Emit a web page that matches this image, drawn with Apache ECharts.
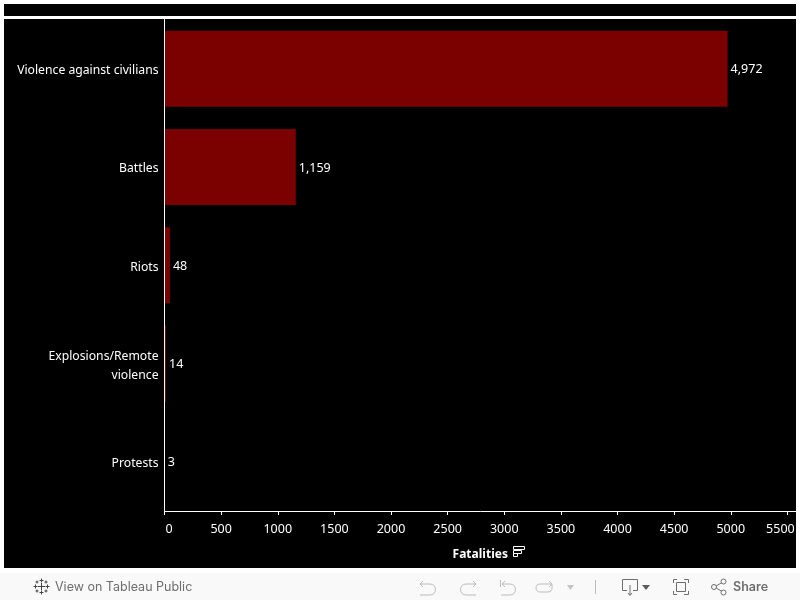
<!DOCTYPE html>
<html><head><meta charset="utf-8">
<style>html,body{margin:0;padding:0;background:#fff}#c{width:800px;height:600px}</style>
<script src="https://cdn.jsdelivr.net/npm/echarts@6/dist/echarts.min.js"></script>
</head><body><div id="c"></div>
<script>
const categories = ['Violence against civilians','Battles','Riots','Explosions/Remote\nviolence','Protests'];
const fatalities = [4972,1159,48,14,3];
const axisTitle = 'Fatalities';
const footerLeft = 'View on Tableau Public';
const footerRight = 'Share';
const font = '"Noto Sans"';
const uiFont = 'Inter';
const ic = {stroke:'#bcbcbc',lineWidth:1,fill:null};
const dk = {stroke:'#6e6e6e',lineWidth:1,fill:null};
let shapeCount = 0;
function path(d,style,z){
  const name = 'iconShape'+(shapeCount++);
  echarts.graphic.registerShape(name, echarts.graphic.extendPath(d));
  return {type:name,style:style,z:z||5,silent:true};
}
function plus(cx,cy,a){return `M${cx} ${cy-a}V${cy+a}M${cx-a} ${cy}H${cx+a}`;}
const logo = plus(41.5,586.5,3.5)+plus(41.5,580.5,2)+plus(41.5,592.5,2)+plus(35.5,586.5,2)+plus(47.5,586.5,2)+plus(37,582,1.5)+plus(46,582,1.5)+plus(37,591,1.5)+plus(46,591,1.5);
const numSize = 12.5;
const catText = {color:'#fff',fontSize:12.2,fontFamily:font,align:'right'};
const chart = echarts.init(document.getElementById('c'),null,{renderer:'canvas'});
chart.setOption({
  animation:false,
  backgroundColor:'#fff',
  textStyle:{fontFamily:font},
  grid:{left:164.5,right:4,top:19.5,bottom:89,containLabel:false},
  xAxis:{type:'value',min:0,max:5576,interval:500,z:3,
    name:axisTitle,nameLocation:'middle',nameGap:38,
    nameTextStyle:{color:'#fff',fontSize:12,fontWeight:'bold',fontFamily:font},
    splitLine:{show:false},
    axisLine:{show:true,lineStyle:{color:'#fff',width:1}},
    axisTick:{show:true,length:4,lineStyle:{color:'#fff',width:1},alignWithLabel:true},
    showMaxLabel:false,
    axisLabel:{color:'#fff',fontSize:numSize,margin:12,fontFamily:font,
      formatter:function(v){return v===0?'{a|0}':v===5500?'{b|5500}':String(v);},
      rich:{a:{color:'#fff',fontSize:numSize,fontFamily:font,padding:[0,0,0,9]},
            b:{color:'#fff',fontSize:numSize,fontFamily:font,padding:[0,14,0,0]}}}},
  yAxis:{type:'category',inverse:true,data:categories,z:3,
    axisLine:{show:true,lineStyle:{color:'#fff',width:1}},
    axisTick:{show:false},splitLine:{show:false},
    axisLabel:{color:'#fff',fontSize:12.2,margin:6,align:'right',fontFamily:font,
      formatter:function(v){
        const lines=v.split('\n');
        return lines.map(function(s,i){return '{'+(lines.length===1?'p':i===0?'m':'n')+'|'+s+'}';}).join('\n');
      },
      rich:{p:Object.assign({padding:[4,0,0,0]},catText),
            m:Object.assign({padding:[4,0,0,0],height:15},catText),
            n:Object.assign({padding:[4,0,0,0],height:15},catText)}}},
  series:[{type:'bar',data:fatalities,barWidth:76,itemStyle:{color:'#7b0000'},
    label:{show:true,position:'right',distance:3,offset:[0,1],color:'#fff',fontSize:numSize,fontFamily:font,
      formatter:function(p){return p.value.toLocaleString('en-US');}}}],
  graphic:{elements:[
    {type:'rect',shape:{x:4,y:4,width:792,height:12},style:{fill:'#000'},z:-10,silent:true},
    {type:'rect',shape:{x:4,y:19,width:792,height:549},style:{fill:'#000'},z:-10,silent:true},
    {type:'rect',shape:{x:0,y:573,width:800,height:27},style:{fill:'#f9f9f9'},z:-10,silent:true},
    path('M513.5 546.5H524.5V549.5H513.5ZM513.5 550.5H521.5V553.5H513.5ZM513.5 553.5H517.5V556.5H513.5Z',{stroke:'#fff',lineWidth:1,fill:null}),
    path(logo,{stroke:'#444',lineWidth:1,fill:null}),
    {type:'text',x:55,y:587,style:{text:footerLeft,fill:'#6e6e6e',font:'12.5px '+uiFont,verticalAlign:'middle'},z:5,silent:true},
    path('M423 581L420 584L423 587M420 584H430C433.5 584 435.5 586.5 435.5 589.5C435.5 592.5 433.5 595 430 595H420',ic),
    path('M473 581L476 584L473 587M476 584H466C462.5 584 460.5 586.5 460.5 589.5C460.5 592.5 462.5 595 466 595H476',ic),
    path('M500.5 580V587M505 581L502 584L505 587M502 584H510C513.5 584 515.5 586.5 515.5 589.5C515.5 592.5 513.5 595 510 595H501',ic),
    path('M549 581L552 584L549 587M552 584H540C537 584 536 586 536 588C536 590.5 538 592 540 592H548C551 592 552 590 552 588V584',ic),
    {type:'polygon',shape:{points:[[567,585],[574,585],[570.5,590]]},style:{fill:'#c4c4c4'},z:5,silent:true},
    path('M595.5 580V594',{stroke:'#bdbdbd',lineWidth:1,fill:null}),
    path('M627 590.5H622.5V579.5H637.5V590.5H633M630 585V595M628 593L630 595.5L632 593',dk),
    {type:'polygon',shape:{points:[[642,585],[650,585],[646,590]]},style:{fill:'#5c5c5c'},z:5,silent:true},
    path('M677 579.5H673.5V583M684 579.5H688.5V583M677 594.5H673.5V591M684 594.5H688.5V591M676.5 582.5H685.5V591.5H676.5Z',dk),
    path('M714.5 587L722 582.5M714.5 587L722 591.5',dk),
    {type:'circle',shape:{cx:714,cy:587,r:2.5},style:{fill:'#f9f9f9',stroke:'#6e6e6e'},z:6,silent:true},
    {type:'circle',shape:{cx:723.5,cy:581.5,r:2.5},style:{fill:'#f9f9f9',stroke:'#6e6e6e'},z:6,silent:true},
    {type:'circle',shape:{cx:723.5,cy:592.5,r:2.5},style:{fill:'#f9f9f9',stroke:'#6e6e6e'},z:6,silent:true},
    {type:'text',x:733,y:587,style:{text:footerRight,fill:'#6e6e6e',font:'600 12.5px '+uiFont,verticalAlign:'middle'},z:5,silent:true}
  ]}
});
</script></body></html>
